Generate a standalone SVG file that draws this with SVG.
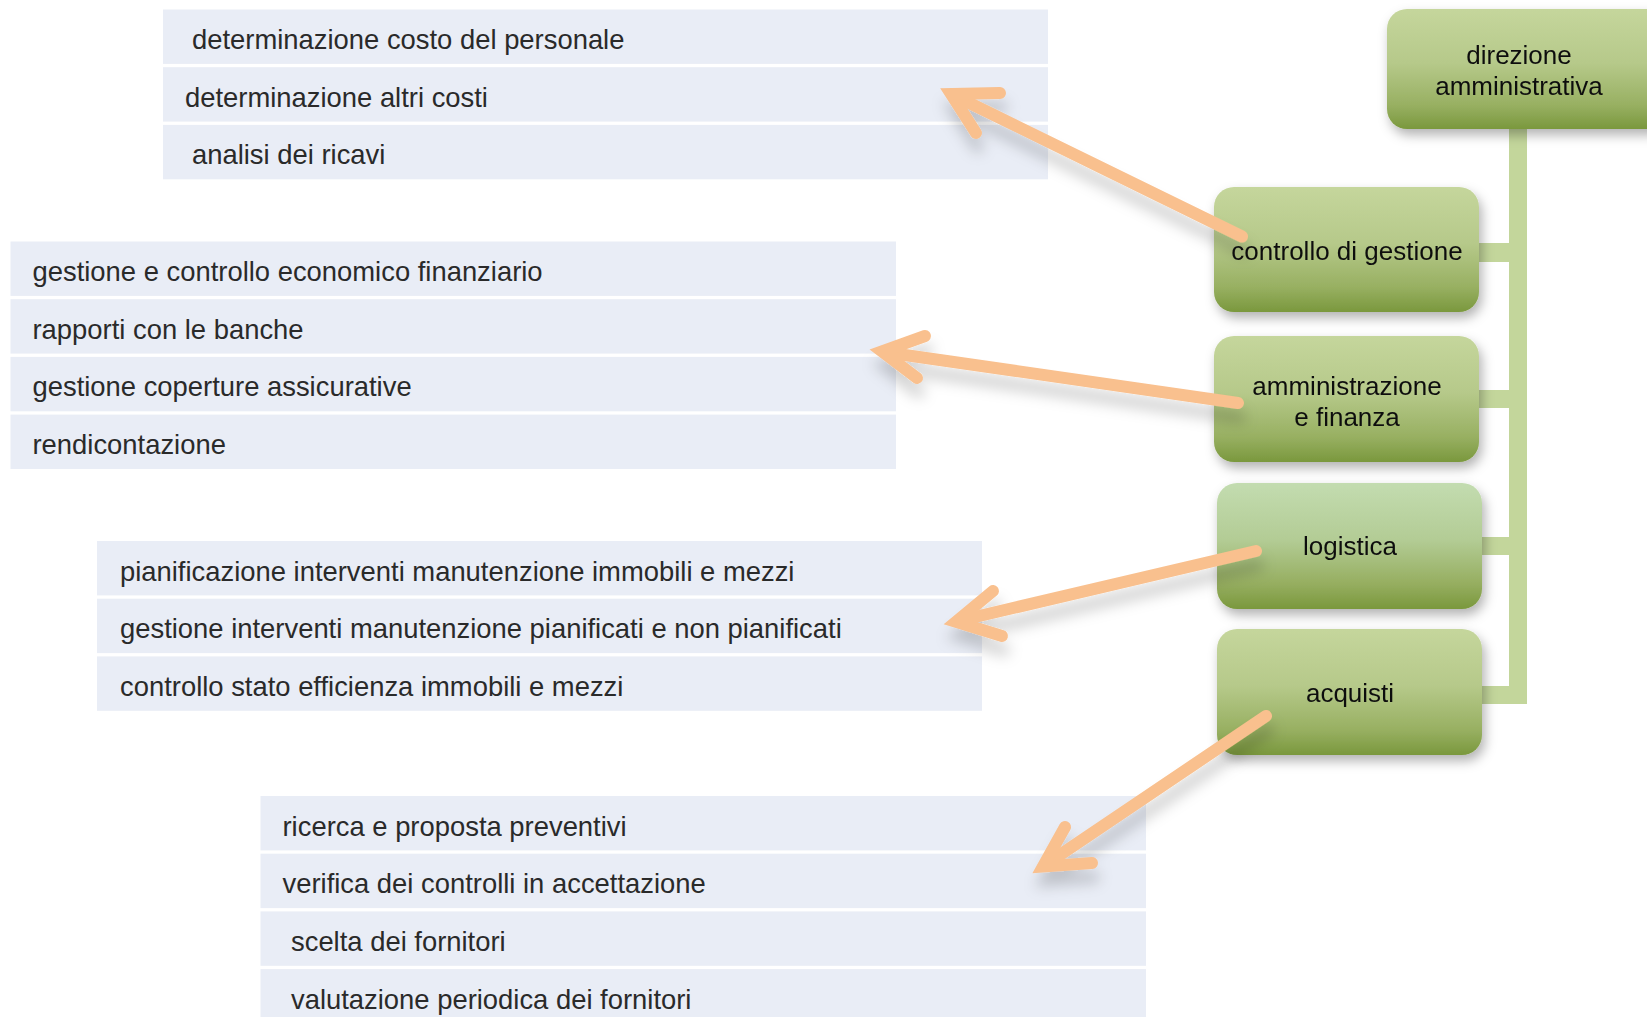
<svg xmlns="http://www.w3.org/2000/svg" width="1647" height="1017" viewBox="0 0 1647 1017">
<defs>
<linearGradient id="g1" x1="0" y1="0" x2="0" y2="1">
<stop offset="0" stop-color="#c5d69c"/>
<stop offset="0.45" stop-color="#b6c98a"/>
<stop offset="0.8" stop-color="#98b062"/>
<stop offset="1" stop-color="#7a983d"/>
</linearGradient>
<linearGradient id="g2" x1="0" y1="0" x2="0" y2="1">
<stop offset="0" stop-color="#c3dcb0"/>
<stop offset="0.45" stop-color="#b3cc95"/>
<stop offset="0.8" stop-color="#96ae60"/>
<stop offset="1" stop-color="#7a983d"/>
</linearGradient>
<filter id="sh" x="-20%" y="-20%" width="140%" height="150%">
<feDropShadow dx="3" dy="6" stdDeviation="6" flood-color="#000" flood-opacity="0.3"/>
</filter>
<filter id="ash" x="-20%" y="-20%" width="140%" height="160%">
<feDropShadow dx="2" dy="14" stdDeviation="7" flood-color="#000" flood-opacity="0.18"/>
</filter>
</defs>
<style>
.row{fill:#e9edf6}
.rt{font-family:"Liberation Sans",Arial,sans-serif;font-size:27.4px;fill:#2a2a2a}
.nt{font-family:"Liberation Sans",Arial,sans-serif;font-size:26px;fill:#111;text-anchor:middle}
.bar{fill:#c3d69b}
.arr{fill:none;stroke:#f9c08e;stroke-width:12;stroke-linecap:round;stroke-linejoin:miter;stroke-miterlimit:10}
</style>

<g id="list-controllo">
<rect class="row" x="163" y="9.5" width="885" height="54.4"/>
<rect class="row" x="163" y="67.2" width="885" height="54.4"/>
<rect class="row" x="163" y="124.9" width="885" height="54.4"/>
<text class="rt" x="192" y="49">determinazione costo del personale</text>
<text class="rt" x="185" y="106.7">determinazione altri costi</text>
<text class="rt" x="192" y="164.4">analisi dei ricavi</text>
</g>

<g id="list-amministrazione">
<rect class="row" x="10.5" y="241.5" width="885.5" height="54.4"/>
<rect class="row" x="10.5" y="299.2" width="885.5" height="54.4"/>
<rect class="row" x="10.5" y="356.9" width="885.5" height="54.4"/>
<rect class="row" x="10.5" y="414.6" width="885.5" height="54.4"/>
<text class="rt" x="32.5" y="281">gestione e controllo economico finanziario</text>
<text class="rt" x="32.5" y="338.7">rapporti con le banche</text>
<text class="rt" x="32.5" y="396.4">gestione coperture assicurative</text>
<text class="rt" x="32.5" y="454.1">rendicontazione</text>
</g>

<g id="list-logistica">
<rect class="row" x="97" y="541" width="885" height="54.4"/>
<rect class="row" x="97" y="598.7" width="885" height="54.4"/>
<rect class="row" x="97" y="656.4" width="885" height="54.4"/>
<text class="rt" x="120" y="580.5">pianificazione interventi manutenzione immobili e mezzi</text>
<text class="rt" x="120" y="638.2">gestione interventi manutenzione pianificati e non pianificati</text>
<text class="rt" x="120" y="695.9">controllo stato efficienza immobili e mezzi</text>
</g>

<g id="list-acquisti">
<rect class="row" x="260.5" y="796" width="885.5" height="54.4"/>
<rect class="row" x="260.5" y="853.7" width="885.5" height="54.4"/>
<rect class="row" x="260.5" y="911.4" width="885.5" height="54.4"/>
<rect class="row" x="260.5" y="969.1" width="885.5" height="54.4"/>
<text class="rt" x="282.5" y="835.5">ricerca e proposta preventivi</text>
<text class="rt" x="282.5" y="893.2">verifica dei controlli in accettazione</text>
<text class="rt" x="291" y="950.9">scelta dei fornitori</text>
<text class="rt" x="291" y="1008.6">valutazione periodica dei fornitori</text>
</g>

<g id="tree-connectors">
<rect class="bar" x="1509" y="125" width="18" height="579"/>
<rect class="bar" x="1470" y="243" width="45" height="19"/>
<rect class="bar" x="1470" y="390" width="45" height="18"/>
<rect class="bar" x="1472" y="537" width="43" height="18"/>
<rect class="bar" x="1472" y="686" width="43" height="18"/>
</g>

<g id="node-direzione" filter="url(#sh)">
<rect x="1387" y="9" width="280" height="120" rx="20" fill="url(#g1)"/>
<text class="nt" x="1519" y="64">direzione</text>
<text class="nt" x="1519" y="95">amministrativa</text>
</g>

<g id="node-controllo" filter="url(#sh)">
<rect x="1214" y="187" width="265" height="125" rx="20" fill="url(#g1)"/>
<text class="nt" x="1347" y="260">controllo di gestione</text>
</g>

<g id="node-amministrazione" filter="url(#sh)">
<rect x="1214" y="336" width="265" height="126" rx="20" fill="url(#g1)"/>
<text class="nt" x="1347" y="395">amministrazione</text>
<text class="nt" x="1347" y="426">e finanza</text>
</g>

<g id="node-logistica" filter="url(#sh)">
<rect x="1217" y="483" width="265" height="126" rx="20" fill="url(#g2)"/>
<text class="nt" x="1350" y="555">logistica</text>
</g>

<g id="node-acquisti" filter="url(#sh)">
<rect x="1217" y="629" width="265" height="126" rx="20" fill="url(#g1)"/>
<text class="nt" x="1350" y="702">acquisti</text>
</g>

<g id="arrows" filter="url(#ash)">
<path class="arr" d="M1242 236.5 L953 95"/>
<path class="arr" d="M1000 93 L951 94 L976 133"/>
<path class="arr" d="M1238 403 L884 352"/>
<path class="arr" d="M925 336 L882 351.5 L917 378"/>
<path class="arr" d="M1256 551 L958 621"/>
<path class="arr" d="M993 591 L956 621.7 L1002 636"/>
<path class="arr" d="M1266 716 L1045 865"/>
<path class="arr" d="M1065 827 L1043 866.4 L1092 863"/>
</g>
</svg>
